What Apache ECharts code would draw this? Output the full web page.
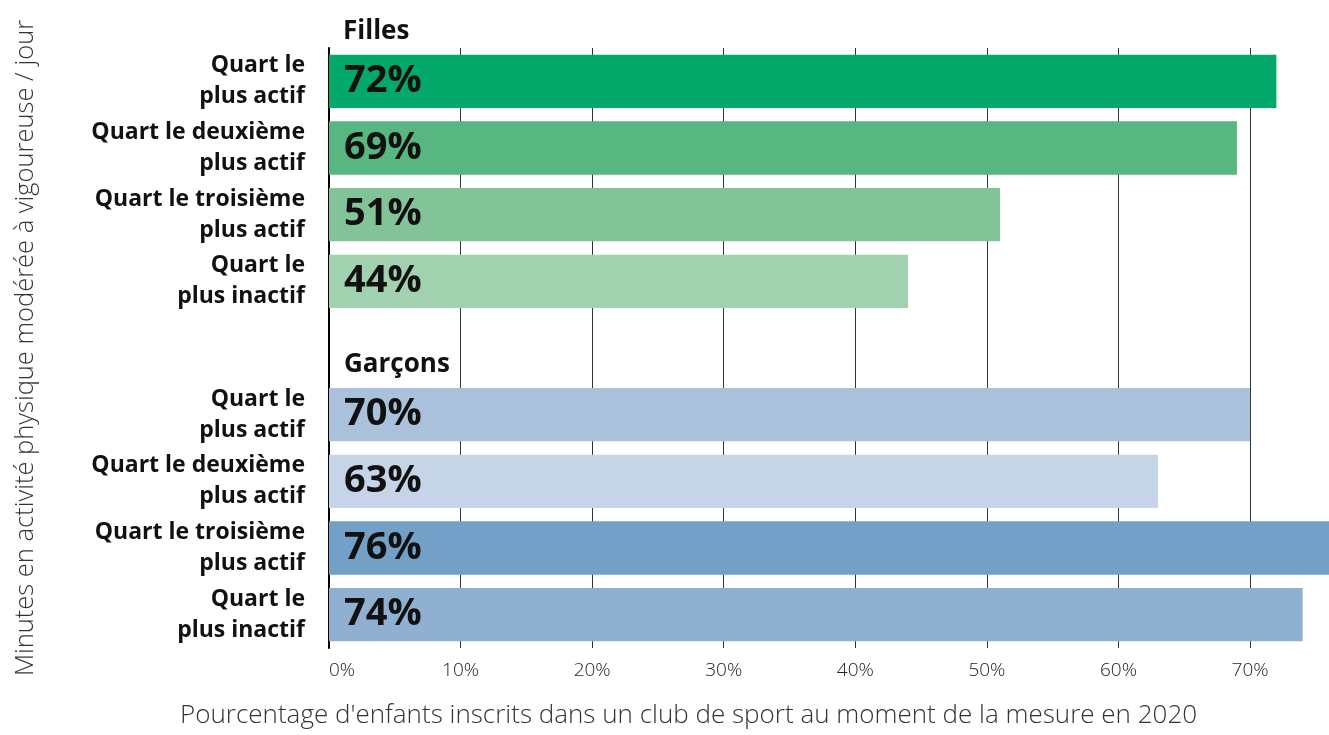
<!DOCTYPE html>
<html>
<head>
<meta charset="utf-8">
<script src="https://cdn.jsdelivr.net/npm/echarts@6/dist/echarts.min.js"></script>
<style>
  html, body { margin: 0; padding: 0; background: #fff; }
  #chart { width: 1329px; height: 735px; }
</style>
</head>
<body>
<div id="chart"></div>
<script>
// libellés des quarts (axe des catégories)
const quartLabels = ['Quart le\nplus actif', 'Quart le deuxième\nplus actif', 'Quart le troisième\nplus actif', 'Quart le\nplus inactif'];
const groupNames = ['Filles', 'Garçons'];
// valeurs en %
const fillesValues = [72, 69, 51, 44];
const garconsValues = [70, 63, 76, 74];
const fillesColors = ['#03a96b', '#58b780', '#82c497', '#a2d1b0'];
const garconsColors = ['#aac1db', '#c5d4e7', '#72a0c6', '#8fb0d0'];
const xTicks = [0, 10, 20, 30, 40, 50, 60, 70];

const font = '"Open Sans", Roboto, sans-serif';

// catégories : 4 filles, une ligne vide pour le titre "Garçons", 4 garçons
const categories = quartLabels.concat(['']).concat(quartLabels);

const barData = [];
fillesValues.forEach((v, i) => {
    barData.push({ value: v, itemStyle: { color: fillesColors[i] } });
});
// ligne d'en-tête pour les garçons
barData.push({
    value: 0,
    itemStyle: { color: 'transparent' },
    label: {
        show: true,
        position: 'right',
        distance: 15,
        offset: [0, 17],
        formatter: groupNames[1],
        fontSize: 26,
        fontWeight: 'bold',
        color: '#111'
    }
});
garconsValues.forEach((v, i) => {
    barData.push({ value: v, itemStyle: { color: garconsColors[i] } });
});

const chart = echarts.init(document.getElementById('chart'));

const option = {
    animation: false,
    textStyle: { fontFamily: font },
    title: [
        {
            text: groupNames[0],
            left: 343,
            top: 19,
            padding: 0,
            textStyle: { fontFamily: font, fontSize: 26, fontWeight: 'bold', color: '#111' }
        },
        {
            text: "Pourcentage d'enfants inscrits dans un club de sport au moment de la mesure en 2020",
            left: 180,
            top: 703,
            padding: 0,
            textStyle: { fontFamily: font, fontSize: 26, fontWeight: 300, color: '#333' }
        }
    ],
    grid: { left: 329, right: 0, top: 48, bottom: 87, containLabel: false },
    xAxis: {
        type: 'value',
        min: 0,
        max: 76,
        interval: 10,
        axisLine: { show: false },
        axisTick: { show: false },
        splitLine: { show: true, lineStyle: { color: '#333', width: 1 } },
        axisLabel: {
            margin: 13,
            fontSize: 19,
            fontWeight: 300,
            color: '#222',
            alignMinLabel: 'left',
            showMaxLabel: false,
            formatter: v => xTicks.indexOf(v) >= 0 ? v + '%' : ''
        }
    },
    yAxis: {
        type: 'category',
        inverse: true,
        data: categories,
        name: 'Minutes en activité physique modérée à vigoureuse / jour',
        nameLocation: 'middle',
        nameGap: 290,
        nameRotate: 90,
        nameTextStyle: { fontFamily: font, fontSize: 25.5, fontWeight: 300, color: '#333' },
        axisLine: { show: true, lineStyle: { color: '#000', width: 2 } },
        axisTick: { show: false },
        splitLine: { show: false },
        axisLabel: {
            margin: 24,
            fontSize: 23,
            fontWeight: 'bold',
            color: '#111',
            lineHeight: 31,
            align: 'right'
        }
    },
    series: [
        {
            type: 'bar',
            data: barData,
            barCategoryGap: '20%',
            label: {
                show: true,
                position: 'insideLeft',
                distance: 15,
                formatter: '{c}%',
                fontSize: 38,
                fontWeight: 'bold',
                color: '#111'
            }
        }
    ]
};

chart.setOption(option);
</script>
</body>
</html>
